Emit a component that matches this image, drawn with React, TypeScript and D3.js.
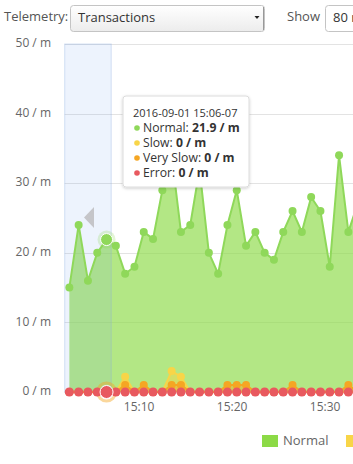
import React from "react";
import * as d3 from "d3";

const minutes = ["15:02","15:03","15:04","15:05","15:06","15:07","15:08","15:09","15:10","15:11","15:12","15:13","15:14","15:15","15:16","15:17","15:18","15:19","15:20","15:21","15:22","15:23","15:24","15:25","15:26","15:27","15:28","15:29","15:30","15:31","15:32","15:33"];
const normal = [15,24,16,20,21.9,21,17,18,23,22,29,34,23,24,32,20,17,24,29,21,23,20,19,23,26,23,28,26,18,34,23,27];
const slow = [0,0,0,0,0,0,2.2,0,0,0,0,3,2.2,0,0,0,0,0,0,0,0,0,0,0,0,0,0,0,0,0,0,0];
const verySlow = [0,0,0,0,0,0,1,0,1,0,0,1,1,0,0,0,0,1,1,1,0,0,0,0,1,0,0,0,0,0,1,0];
const errors = [0,0,0,0,0,0,0,0,0,0,0,0,0,0,0,0,0,0,0,0,0,0,0,0,0,0,0,0,0,0,0,0];
const yTicks = [0,10,20,30,40,50];
const legendItems = ["Normal","Slow"];
const hoverIndex = 4;
const tooltipDate = "2016-09-01 15:06-07";

const FONT = "'Open Sans', sans-serif";
const C_GREEN = "#8cda46";
const C_GREEN_DOT = "#8fd85a";
const C_YELLOW = "#f8d548";
const C_ORANGE = "#f5a623";
const C_RED = "#e8595f";

function toDate(m: string, sec: number) {
  const [h, mm] = m.split(":").map(Number);
  return new Date(2016, 8, 1, h, mm, sec);
}

export default function App() {
  const W = 353, H = 464;
  const t0 = toDate(minutes[0], 0);
  const t1 = new Date(t0.getTime() + 38 * 60000);
  const x = d3.scaleTime().domain([t0, t1]).range([64.7, 64.7 + 38 * 9.3]);
  const y = d3.scaleLinear().domain([0, 50]).range([392, 44]);
  const pts = minutes.map((m) => toDate(m, 30));

  const area = (vals: number[]) =>
    d3.area<number>().x((_, i) => x(pts[i])).y0(y(0)).y1((d) => y(d)).curve(d3.curveLinear)(vals) || "";
  const line = (vals: number[]) =>
    d3.line<number>().x((_, i) => x(pts[i])).y((d) => y(d)).curve(d3.curveLinear)(vals) || "";

  const xTicks = x.ticks(d3.timeMinute.every(10) as any).filter((t) => x(t) > 70 && x(t) < W);
  const fmt = d3.timeFormat("%H:%M");

  const plotLeft = x(t0);
  const bandRight = x(toDate(minutes[hoverIndex + 1], 0));
  const hx = x(pts[hoverIndex]);

  const tipX = 123, tipY = 96, tipW = 126, tipH = 91;
  const tipRows = [
    { name: "Normal", val: normal[hoverIndex], color: C_GREEN_DOT },
    { name: "Slow", val: slow[hoverIndex], color: C_YELLOW },
    { name: "Very Slow", val: verySlow[hoverIndex], color: C_ORANGE },
    { name: "Error", val: errors[hoverIndex], color: C_RED },
  ];

  return (
    <div style={{ position: "absolute", left: 0, top: 0, width: W, height: H, overflow: "hidden" }}>
      <svg width={W} height={H} style={{ display: "block", fontFamily: FONT }}>
        <defs>
          <linearGradient id="sel" x1="0" y1="0" x2="0" y2="1">
            <stop offset="0" stopColor="#ffffff" />
            <stop offset="1" stopColor="#ececec" />
          </linearGradient>
          <filter id="shadow" x="-20%" y="-20%" width="140%" height="150%">
            <feDropShadow dx="0" dy="1" stdDeviation="1.5" floodColor="#000" floodOpacity="0.2" />
          </filter>
          <clipPath id="plotclip">
            <rect x={plotLeft - 6} y={0} width={W} height={H} />
          </clipPath>
        </defs>
        <rect width={W} height={H} fill="#fff" />

        {/* top controls */}
        <text x={4} y={17.5} fontSize={13} fill="#555" dominantBaseline="middle">Telemetry:</text>
        <rect x={70.5} y={5.5} width={194} height={26} rx={3} fill="url(#sel)" stroke="#c4c4c4" />
        <line x1={263.5} y1={7} x2={263.5} y2={30} stroke="#999" />
        <text x={78} y={18.5} fontSize={13} fill="#333" dominantBaseline="middle">Transactions</text>
        <path d="M254.5,16 L259.5,16 L257,19 Z" fill="#222" />
        <text x={287} y={18} fontSize={13} fill="#555" dominantBaseline="middle">Show</text>
        <rect x={325.5} y={5.5} width={60} height={26} rx={3} fill="#fff" stroke="#c4c4c4" />
        <text x={333} y={18.5} fontSize={13} fill="#333" dominantBaseline="middle">80 records</text>

        {/* y axis labels & grid */}
        {yTicks.map((t) => (
          <g key={t}>
            <line x1={plotLeft} x2={W} y1={Math.round(y(t)) + 0.5} y2={Math.round(y(t)) + 0.5} stroke="#e3e3e3" />
            <text x={51} y={y(t)} fontSize={12} fill="#666" textAnchor="end" dominantBaseline="middle">{`${t} / m`}</text>
          </g>
        ))}

        {/* x labels */}
        {xTicks.map((t) => (
          <text key={+t} x={x(t)} y={408} fontSize={12} fill="#666" textAnchor="middle" dominantBaseline="middle">{fmt(t)}</text>
        ))}

        <g clipPath="url(#plotclip)">
          {/* normal series */}
          <path d={area(normal)} fill="rgb(140,218,70)" fillOpacity={0.66} />
          {/* selection band */}
          <rect x={plotLeft} y={y(50)} width={bandRight - plotLeft} height={y(0) - y(50)} fill="rgb(110,160,240)" fillOpacity={0.12} stroke="rgba(140,175,225,0.35)" />
          <path d={line(normal)} fill="none" stroke={C_GREEN_DOT} strokeWidth={2} />
          {normal.map((v, i) => (i === hoverIndex ? null :
            <circle key={i} cx={x(pts[i])} cy={y(v)} r={4} fill={C_GREEN_DOT} />
          ))}

          {/* slow */}
          <path d={area(slow)} fill={C_YELLOW} fillOpacity={0.5} />
          <path d={line(slow)} fill="none" stroke={C_YELLOW} strokeWidth={2} />
          {slow.map((v, i) => (
            <circle key={i} cx={x(pts[i])} cy={y(v)} r={4} fill={C_YELLOW} />
          ))}

          {/* very slow */}
          <path d={area(verySlow)} fill={C_ORANGE} fillOpacity={0.45} />
          <path d={line(verySlow)} fill="none" stroke={C_ORANGE} strokeWidth={2} />
          {verySlow.map((v, i) => (
            <circle key={i} cx={x(pts[i])} cy={y(v)} r={4} fill={C_ORANGE} />
          ))}

          {/* hover halos */}
          <circle cx={hx} cy={y(verySlow[hoverIndex])} r={9} fill="none" stroke={C_ORANGE} strokeOpacity={0.45} strokeWidth={3} />
          <circle cx={hx} cy={y(normal[hoverIndex])} r={9} fill={C_GREEN_DOT} fillOpacity={0.25} />
          <circle cx={hx} cy={y(normal[hoverIndex])} r={6} fill={C_GREEN_DOT} stroke="#fff" strokeWidth={1} />

          {/* errors */}
          {errors.map((v, i) => (i === hoverIndex ? null :
            <circle key={i} cx={x(pts[i])} cy={y(v)} r={4.6} fill={C_RED} />
          ))}
          <circle cx={hx} cy={y(errors[hoverIndex])} r={6.5} fill={C_RED} stroke="#fff" strokeWidth={1} />
        </g>

        {/* grey caret */}
        <path d="M84,217.5 L94,207 L94,228 Z" fill="#c5c5c9" />

        {/* tooltip */}
        <rect x={tipX} y={tipY} width={tipW} height={tipH} rx={3} fill="#fff" stroke="#dcdcdc" filter="url(#shadow)" />
        <text x={133} y={114} fontSize={11} fill="#333" dominantBaseline="middle">{tooltipDate}</text>
        {tipRows.map((r, k) => (
          <g key={r.name}>
            <circle cx={137} cy={128 + k * 15} r={2.8} fill={r.color} />
            <text x={143} y={128.5 + k * 15} fontSize={12.2} fill="#333" dominantBaseline="middle">
              {`${r.name}: `}<tspan fontWeight="bold">{`${r.val} / m`}</tspan>
            </text>
          </g>
        ))}

        {/* legend */}
        <rect x={262} y={435} width={16} height={12} fill={C_GREEN} />
        <text x={283} y={441.5} fontSize={13} fill="#666" dominantBaseline="middle">{legendItems[0]}</text>
        <rect x={346} y={435} width={16} height={12} fill={C_YELLOW} />
        <text x={367} y={441.5} fontSize={13} fill="#666" dominantBaseline="middle">{legendItems[1]}</text>
      </svg>
    </div>
  );
}
